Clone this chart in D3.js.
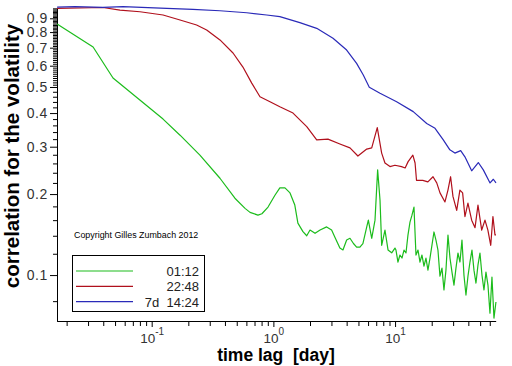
<!DOCTYPE html>
<html><head><meta charset="utf-8">
<script src="https://cdn.jsdelivr.net/npm/d3@7/dist/d3.min.js"></script>
<style>body{margin:0;background:#fff}svg{display:block}</style>
</head><body><svg id="c" width="512" height="366"></svg>
<script>
// ---- data (time lag in days, correlation) ----
const seriesNames = ["01:12", "22:48", "7d  14:24"];
const seriesColors = ["#1cbc1c", "#b0101c", "#2a2ab8"];

const greenLag = [0.0167,0.0330,0.0481,0.124,0.171,0.249,0.364,0.483,0.585,0.643,0.747,0.805,0.904,1.03,1.13,1.245,1.37,1.50,1.59,1.75,1.88,2.00,2.20,2.42,2.74,3.01,3.21,3.52,3.73,4.00,4.26,4.55,4.83,5.14,5.44,5.85,6.03,6.43,6.84,7.19,7.52,7.76,8.26,8.75,9.38,9.98,
  10.17,10.56,10.97,11.40,11.84,12.29,12.76,13.26,13.77,14.30,14.85,15.43,16.02,16.63,17.28,17.94,18.63,19.36,20.10,20.87,21.68,22.51,23.38,24.29,25.22,26.19,27.21,28.26,29.35,30.48,31.65,32.87,34.14,35.46,36.82,38.24,39.72,41.25,42.84,44.49,46.21,47.99,49.84,51.76,53.76,55.83,57.98,60.22,62.54,64.95,67.45];
const greenCorr = [0.857,0.704,0.540,0.380,0.331,0.279,0.229,0.193,0.177,0.171,0.167,0.169,0.179,0.198,0.211,0.211,0.202,0.182,0.156,0.145,0.140,0.147,0.143,0.147,0.151,0.147,0.138,0.126,0.124,0.135,0.137,0.131,0.127,0.127,0.131,0.151,0.160,0.137,0.160,0.246,0.190,0.129,0.147,0.124,0.121,0.126,
  0.1239,0.1118,0.1187,0.1157,0.1239,0.1208,0.1408,0.1573,0.167,0.179,0.1187,0.1239,0.1118,0.1187,0.1080,0.1157,0.1043,0.1157,0.1293,0.1446,0.1349,0.1239,0.0991,0.1061,0.0880,0.1043,0.1408,0.1157,0.1026,0.0918,0.1061,0.1208,0.1118,0.1349,0.1000,0.0843,0.0991,0.1118,0.1239,0.1043,0.0934,0.1089,0.1208,0.1000,0.0880,0.1026,0.0918,0.0722,0.0983,0.0692,0.0794];

const redLag = [0.0167,0.0398,0.0549,0.0801,0.124,0.171,0.234,0.283,0.364,0.466,0.562,0.664,0.776,0.938,1.13,1.45,1.88,2.27,2.81,3.52,4.26,4.95,5.85,6.43,7.14,7.76,8.26,9.08,9.98,11.3,12.1,12.8,14.0,14.6,15.0,16.9,18.6,20.5,22.0,23.4,25.7,27.2,28.6,29.9,32.1,34.1,35.9,37.5,39.7,42.6,45.4,48.0,51.5,54.8,57.9,61.1,63.7,66.2,67.5];
const redCorr = [0.980,0.987,0.966,0.952,0.926,0.887,0.850,0.814,0.748,0.669,0.593,0.517,0.460,0.441,0.422,0.400,0.356,0.318,0.320,0.307,0.297,0.277,0.294,0.297,0.353,0.284,0.261,0.253,0.256,0.253,0.250,0.264,0.279,0.261,0.225,0.225,0.222,0.232,0.220,0.202,0.187,0.207,0.232,0.196,0.174,0.207,0.202,0.165,0.185,0.160,0.150,0.182,0.147,0.160,0.147,0.129,0.165,0.141,0.141];

const blueLag = [0.0167,0.0234,0.0398,0.0581,0.133,0.218,0.364,0.604,0.881,1.13,1.65,2.27,3.09,4.00,4.83,5.48,6.14,7.52,10.3,14.1,18.2,21.3,24.9,28.2,31.0,34.6,37.5,42.6,48.3,53.1,60.3,64.2,67.5];
const blueCorr = [0.991,0.994,0.989,0.994,0.980,0.972,0.960,0.944,0.926,0.913,0.867,0.826,0.759,0.686,0.612,0.554,0.499,0.474,0.441,0.405,0.366,0.351,0.318,0.292,0.284,0.290,0.275,0.244,0.262,0.246,0.220,0.227,0.220];

const xMajorTicks = [0.1, 1, 10];
const xMajorExponents = ["-1", "0", "1"];
const yMajorTicks = [0.1,0.2,0.3,0.4,0.5,0.6,0.7,0.8,0.9];
const yTickLabels = ["0.1","0.2","0.3","0.4","0.5","0.6","0.7","0.8","0.9"];
const xTitle = "time lag  [day]";
const yTitle = "correlation for the volatility";
const copyright = "Copyright Gilles Zumbach 2012";

// ---- drawing ----
const FONT = "Liberation Sans, Arial, sans-serif";
const svg = d3.select("#c");
const x = d3.scaleLog().domain([0.01667, 67]).range([57, 495.6]);
const y = d3.scaleLog().domain([0.0675, 0.983]).range([321, 8]);

const xMinor = [];
for (const dec of [0.01, 0.1, 1, 10]) for (let k = 1; k <= 9; k++) {
  const v = +(dec * k).toPrecision(3);
  if (v >= 0.01667 && v <= 67 && !xMajorTicks.includes(v)) xMinor.push(v);
}
const yMinor = [];
for (let v = 0.08; v < 0.5; v += 0.02) { const r = +v.toFixed(2); if (!yMajorTicks.includes(r)) yMinor.push(r); }
for (let v = 0.5; v < 0.985; v += 0.01) { const r = +v.toFixed(2); if (!yMajorTicks.includes(r)) yMinor.push(r); }

const gy = svg.append("g").attr("transform", "translate(57,0)");
gy.call(d3.axisLeft(y).tickValues(yMinor).tickSize(4).tickSizeOuter(0).tickFormat(""));
gy.append("g").call(d3.axisLeft(y).tickValues(yMajorTicks).tickSize(7).tickSizeOuter(0)
  .tickFormat((d, i) => yTickLabels[i]).tickPadding(2));
gy.selectAll("text").attr("font-family", FONT)
  .attr("font-size", 14).attr("fill", "#333").attr("letter-spacing", 0.6);
gy.selectAll("path.domain").attr("stroke", "#000");

const gx = svg.append("g").attr("transform", "translate(0,321)");
gx.call(d3.axisBottom(x).tickValues(xMinor).tickSize(5).tickSizeOuter(0).tickFormat(""));
const gxm = gx.append("g").call(d3.axisBottom(x).tickValues(xMajorTicks).tickSize(6).tickSizeOuter(0).tickFormat(""));
gxm.selectAll(".tick").append("text")
  .attr("y", 22).attr("text-anchor", "middle").attr("fill", "#333")
  .attr("font-family", FONT).attr("font-size", 13.5)
  .each(function(d, i) {
    const t = d3.select(this);
    t.append("tspan").text("10");
    t.append("tspan").attr("dy", -8).attr("font-size", 10).text(xMajorExponents[i]);
  });
gx.selectAll("path.domain").attr("stroke", "#000");

// curves
const line = d3.line().x(d => x(d[0])).y(d => y(d[1]));
const series = [
  [greenLag, greenCorr],
  [redLag, redCorr],
  [blueLag, blueCorr]
];
series.forEach((s, i) => {
  svg.append("path").datum(s[0].map((t, j) => [t, s[1][j]]))
    .attr("d", line).attr("fill", "none").attr("stroke", seriesColors[i]).attr("stroke-width", 1.2)
    .attr("stroke-linejoin", "round");
});

// titles
svg.append("text").attr("x", 276).attr("y", 361).attr("text-anchor", "middle")
  .attr("font-family", FONT).attr("font-weight", "bold")
  .attr("font-size", 17.5).style("white-space", "pre").text(xTitle);
svg.append("text").attr("transform", "translate(18.5,156) rotate(-90)").attr("text-anchor", "middle")
  .attr("font-family", FONT).attr("font-weight", "bold")
  .attr("font-size", 20.5).text(yTitle);

// copyright
svg.append("text").attr("x", 74).attr("y", 238).attr("font-family", FONT)
  .attr("font-size", 8.9).attr("fill", "#000").text(copyright);

// legend
const lg = svg.append("g");
lg.append("rect").attr("x", 72.5).attr("y", 255.5).attr("width", 132).attr("height", 56)
  .attr("fill", "#fff").attr("stroke", "#000").attr("stroke-width", 1);
seriesNames.forEach((n, i) => {
  const yy = 271 + i * 15.3;
  lg.append("line").attr("x1", 76).attr("x2", 133).attr("y1", yy).attr("y2", yy)
    .attr("stroke", seriesColors[i]).attr("stroke-width", 1.2);
  lg.append("text").attr("x", 199).attr("y", yy + 5).attr("text-anchor", "end")
    .attr("font-family", FONT).attr("font-size", 13)
    .attr("fill", "#222").style("white-space", "pre").text(n);
});
</script></body></html>
